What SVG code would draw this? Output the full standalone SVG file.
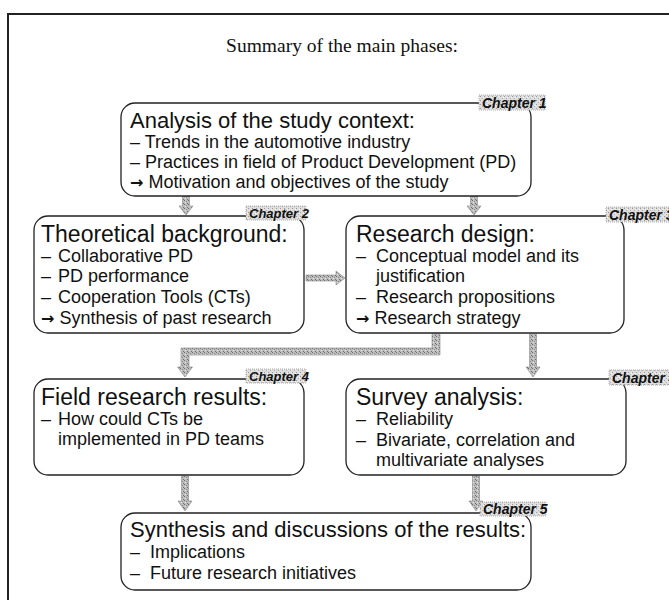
<svg xmlns="http://www.w3.org/2000/svg" width="669" height="600" viewBox="0 0 669 600">
<defs>
<pattern id="speck" width="4" height="4" patternUnits="userSpaceOnUse">
<rect width="4" height="4" fill="#bdbdbd"/>
<rect x="0" y="0" width="1" height="1" fill="#6e6e6e"/>
<rect x="2" y="1" width="1" height="1" fill="#8a8a8a"/>
<rect x="1" y="2" width="1" height="1" fill="#e6e6e6"/>
<rect x="3" y="3" width="1" height="1" fill="#707070"/>
</pattern>
<pattern id="lbl" width="4" height="4" patternUnits="userSpaceOnUse">
<rect width="4" height="4" fill="#dedede"/>
<rect x="0" y="0" width="1" height="1" fill="#9a9a9a"/>
<rect x="2" y="2" width="1" height="1" fill="#b0b0b0"/>
<rect x="3" y="1" width="1" height="1" fill="#f4f4f4"/>
</pattern>
</defs>
<style>
.box{fill:#fff;stroke:#222;stroke-width:1.3}
.hd{font-family:"Liberation Sans",Arial,sans-serif;font-size:22px;fill:#111}
.hd2{font-family:"Liberation Sans",Arial,sans-serif;font-size:23px;fill:#111}
.tx{font-family:"Liberation Sans",Arial,sans-serif;font-size:18px;fill:#111}
.aw{font-family:"DejaVu Sans",sans-serif;font-size:16px;font-weight:bold}
.lb{fill:url(#lbl);stroke:#999;stroke-width:0.8;stroke-dasharray:1 1}
.lt{font-family:"Liberation Sans",Arial,sans-serif;font-size:14px;font-weight:bold;font-style:italic;fill:#111}
.lt2{font-family:"Liberation Sans",Arial,sans-serif;font-size:13px;font-weight:bold;font-style:italic;fill:#111}
.ar{fill:url(#speck);stroke:#888;stroke-width:0.6}
.ttl{font-family:"Liberation Serif","Times New Roman",serif;font-size:19.5px;fill:#111}
</style>
<rect x="8" y="14" width="700" height="620" fill="#fff" stroke="#222" stroke-width="2"/>
<text class="ttl" x="342" y="52" text-anchor="middle">Summary of the main phases:</text>

<g id="connectors">
<path class="ar" d="M182.5,196 L189.5,196 L189.5,206 L193,206 L186,215 L179,206 L182.5,206 Z"/>
<path class="ar" d="M470.5,196 L477.5,196 L477.5,206 L481,206 L474,215 L467,206 L470.5,206 Z"/>
<path class="ar" d="M306,275 L336,275 L336,271 L345,278 L336,285 L336,281 L306,281 Z"/>
<path class="ar" d="M432,334 L440,334 L440,355 L189,355 L189,367 L192.5,367 L185,377 L177.5,367 L181,367 L181,348 L432,348 Z"/>
<path class="ar" d="M529.5,334 L536.5,334 L536.5,367 L540,367 L533,377 L526,367 L529.5,367 Z"/>
<path class="ar" d="M181.5,476 L188.5,476 L188.5,501 L192,501 L185,511 L178,501 L181.5,501 Z"/>
<path class="ar" d="M472.5,476 L479.5,476 L479.5,501 L483,501 L476,511 L469,501 L472.5,501 Z"/>
</g>

<g id="n1">
<rect class="box" x="121" y="103" width="410" height="93" rx="14"/>
<rect class="lb" x="479" y="95" width="66" height="15"/>
<text class="lt" x="482" y="108">Chapter 1</text>
<text class="hd" x="130" y="128">Analysis of the study context:</text>
<text class="tx" x="130" y="148">– Trends in the automotive industry</text>
<text class="tx" x="130" y="168">– Practices in field of Product Development (PD)</text>
<text class="tx" x="130" y="188"><tspan class="aw">→</tspan> Motivation and objectives of the study</text>
</g>

<g id="n2">
<rect class="box" x="34" y="216" width="270" height="117" rx="14"/>
<rect class="lb" x="246" y="206" width="60" height="14"/>
<text class="lt2" x="249" y="218">Chapter 2</text>
<text class="hd2" x="41" y="242">Theoretical background:</text>
<text class="tx" x="41" y="262">–</text><text class="tx" x="58" y="262">Collaborative PD</text>
<text class="tx" x="41" y="282">–</text><text class="tx" x="58" y="282">PD performance</text>
<text class="tx" x="41" y="303">–</text><text class="tx" x="58" y="303">Cooperation Tools (CTs)</text>
<text class="tx" x="41" y="324"><tspan class="aw">→</tspan> Synthesis of past research</text>
</g>

<g id="n3">
<rect class="box" x="346" y="216" width="278" height="117" rx="14"/>
<rect class="lb" x="606" y="207" width="66" height="15"/>
<text class="lt" x="609" y="220">Chapter 3</text>
<text class="hd2" x="356" y="242">Research design:</text>
<text class="tx" x="356" y="262">–</text><text class="tx" x="376" y="262">Conceptual model and its</text>
<text class="tx" x="376" y="282">justification</text>
<text class="tx" x="356" y="303">–</text><text class="tx" x="376" y="303">Research propositions</text>
<text class="tx" x="356" y="324"><tspan class="aw">→</tspan> Research strategy</text>
</g>

<g id="n4">
<rect class="box" x="34" y="379" width="270" height="96" rx="14"/>
<rect class="lb" x="246" y="369" width="60" height="14"/>
<text class="lt2" x="249" y="381">Chapter 4</text>
<text class="hd2" x="41" y="405">Field research results:</text>
<text class="tx" x="41" y="425">–</text><text class="tx" x="58" y="425">How could CTs be</text>
<text class="tx" x="58" y="445">implemented in PD teams</text>
</g>

<g id="n5">
<rect class="box" x="346" y="379" width="280" height="96" rx="14"/>
<rect class="lb" x="609" y="370" width="66" height="15"/>
<text class="lt" x="612" y="383">Chapter 4</text>
<text class="hd2" x="356" y="405">Survey analysis:</text>
<text class="tx" x="356" y="425">–</text><text class="tx" x="376" y="425">Reliability</text>
<text class="tx" x="356" y="446">–</text><text class="tx" x="376" y="446">Bivariate, correlation and</text>
<text class="tx" x="376" y="466">multivariate analyses</text>
</g>

<g id="n6">
<rect class="box" x="121" y="513" width="410" height="77" rx="14"/>
<rect class="lb" x="480" y="502" width="66" height="14"/>
<text class="lt" x="483" y="514">Chapter 5</text>
<text class="hd" x="130" y="537">Synthesis and discussions of the results:</text>
<text class="tx" x="130" y="558">–</text><text class="tx" x="150" y="558">Implications</text>
<text class="tx" x="130" y="579">–</text><text class="tx" x="150" y="579">Future research initiatives</text>
</g>
</svg>
